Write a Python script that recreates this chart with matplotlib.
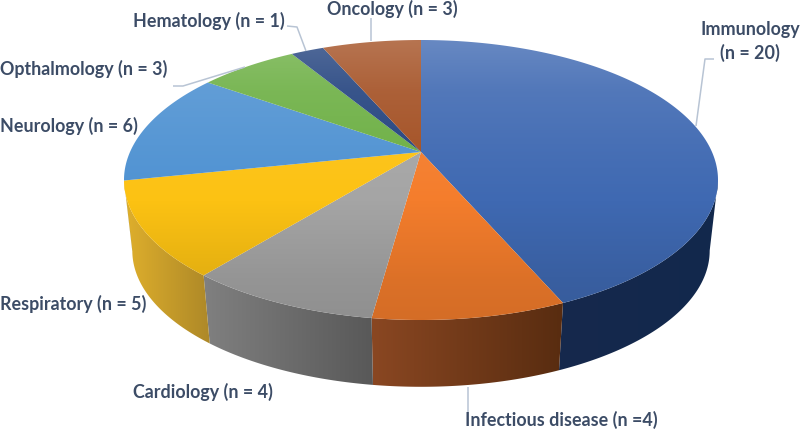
#!/usr/bin/env python3
import numpy as np
import matplotlib
matplotlib.use('Agg')
import matplotlib.pyplot as plt
from matplotlib.patches import Polygon

# data, clockwise from 12 o'clock
categories = ['Immunology', 'Infectious disease', 'Cardiology', 'Respiratory',
              'Neurology', 'Opthalmology', 'Hematology', 'Oncology']
counts = [20, 4, 4, 5, 6, 3, 1, 3]

top_colors = ['#3f69b2', '#f47d2c', '#a5a5a5', '#fcc213',
              '#4f92d2', '#6caf43', '#22427e', '#a34f22']
side_left = ['#16294d', '#8a4722', '#808080', '#e0b02c',
             '#3a6ea5', '#4a7a30', '#16294d', '#6a3416']
side_right = ['#12284c', '#582c10', '#585858', '#ad8828',
              '#3a6ea5', '#4a7a30', '#16294d', '#6a3416']

TEXT_COL = '#3c4c66'
LINE_COL = '#b8c4d4'

# perspective of the disc, in pixels
CX, CY, CY_LOW = 421, 152, 223.5
BX, BY, K, SHRINK = 291, 134.4, 0.2, 0.972

# wall is only visible between the two silhouette angles
WALL_START = np.arccos(-K)
WALL_END = 2 * np.pi - WALL_START


def project(theta, low=False):
    s = 1 / (1 + K * np.cos(theta))
    m = SHRINK if low else 1.0
    x = CX + m * BX * np.sin(theta) * s
    y = (CY_LOW if low else CY) - m * BY * np.cos(theta) * s
    return np.column_stack([x, y])


def hex_rgb(c):
    return np.array(matplotlib.colors.to_rgb(c))


def shade_y(c):
    # vertical shading of the top face: white at the back, dark at the front
    ys = np.arange(0, 430)
    v = np.interp(ys, [40, 90, 150, 200, 280, 320], [0.21, 0.10, 0.04, 0, -0.10, -0.13])
    base = hex_rgb(c)
    img = np.zeros((430, 1, 3))
    for i, a in enumerate(v):
        img[i, 0] = base + (1 - base) * a if a > 0 else base * (1 + a)
    return img


fig = plt.figure(figsize=(8, 4.3), dpi=100)
ax = fig.add_axes([0, 0, 1, 1])
ax.set_xlim(0, 800)
ax.set_ylim(430, 0)
ax.axis('off')

edges = np.cumsum([0] + counts) / sum(counts) * 2 * np.pi

# side walls first, the top faces cover whatever is behind
for i in range(len(counts)):
    a0, a1 = max(edges[i], WALL_START), min(edges[i + 1], WALL_END)
    if a1 <= a0:
        continue
    th = np.linspace(a0, a1, 200)
    top = project(th)
    low = project(th, low=True)
    poly = Polygon(np.vstack([top, low[::-1]]), closed=True, fc='none', ec='none')
    ax.add_patch(poly)
    x0 = min(top[:, 0].min(), low[:, 0].min())
    x1 = max(top[:, 0].max(), low[:, 0].max())
    # lighter towards the left on every wall
    grad = np.linspace(hex_rgb(side_left[i]), hex_rgb(side_right[i]), 256)[np.newaxis, :, :]
    im = ax.imshow(grad, extent=[x0 - 1, x1 + 1, 430, 0], aspect='auto', zorder=2)
    im.set_clip_path(poly)

# top faces
for i in range(len(counts)):
    th = np.linspace(edges[i], edges[i + 1], 200)
    pts = np.vstack([[CX, CY], project(th)])
    poly = Polygon(pts, closed=True, fc='none', ec='none')
    ax.add_patch(poly)
    im = ax.imshow(shade_y(top_colors[i]), extent=[0, 800, 430, 0], aspect='auto', zorder=3)
    im.set_clip_path(poly)

ax.set_xlim(0, 800)
ax.set_ylim(430, 0)

# leader lines
leaders = [
    ([714, 705, 696], [59, 59, 126]),
    ([468, 468], [387, 412]),
    ([173, 183, 245], [86, 86, 67]),
    ([287, 297, 306], [26, 27, 51]),
    ([371, 371], [18, 41]),
]
for xs, ys in leaders:
    ax.plot(xs, ys, color=LINE_COL, lw=1.1, zorder=4, solid_capstyle='butt')

# labels
font = dict(family='Lato', fontweight='bold', fontsize=12.9, color=TEXT_COL, va='center', zorder=5)
ax.text(750, 30, f'{categories[0]}', ha='center', **font)
ax.text(750, 53, f'(n = {counts[0]})', ha='center', **font)
ax.text(465, 420, f'{categories[1]} (n ={counts[1]})', ha='left', **font)
ax.text(133, 392, f'{categories[2]} (n = {counts[2]})', ha='left', **font)
ax.text(0, 304, f'{categories[3]} (n = {counts[3]})', ha='left', **font)
ax.text(0, 126, f'{categories[4]} (n = {counts[4]})', ha='left', **font)
ax.text(0, 69, f'{categories[5]} (n = {counts[5]})', ha='left', **font)
ax.text(133, 21, f'{categories[6]} (n = {counts[6]})', ha='left', **font)
ax.text(327, 9, f'{categories[7]} (n = {counts[7]})', ha='left', **font)

fig.savefig('out.png', dpi=100)
